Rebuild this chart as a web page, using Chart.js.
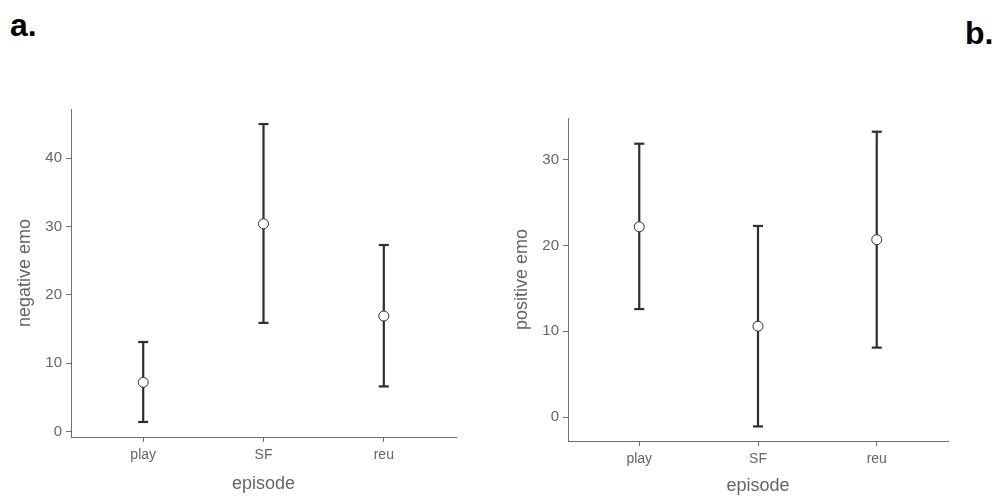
<!DOCTYPE html>
<html>
<head>
<meta charset="utf-8">
<script src="https://cdn.jsdelivr.net/npm/chart.js@4"></script>
<style>
    body { margin: 0; background: #fff; width: 999px; height: 498px; position: relative; overflow: hidden; font-family: "Liberation Sans", Arial, sans-serif; }
    .panel { position: absolute; }
    .tag { position: absolute; font-weight: bold; font-size: 32px; color: #000; line-height: 1; }
</style>
</head>
<body>
<div class="tag" style="left:10px; top:9px;">a.</div>
<div class="tag" style="left:965px; top:17px;">b.</div>
<div class="panel" style="left:0px; top:95px; width:480px; height:403px;"><canvas id="chartA"></canvas></div>
<div class="panel" style="left:490px; top:95px; width:480px; height:403px;"><canvas id="chartB"></canvas></div>
<script>
// categories and values
const categories = ["play", "SF", "reu"];

const negMean = [7.2, 30.4, 16.9];
const negLower = [1.4, 15.9, 6.6];
const negUpper = [13.1, 45.0, 27.3];
const negTicks = [0, 10, 20, 30, 40];

const posMean = [22.2, 10.6, 20.7];
const posLower = [12.6, -1.1, 8.1];
const posUpper = [31.9, 22.3, 33.3];
const posTicks = [0, 10, 20, 30];

const barColor = "#2e2e2e";
const axisColor = "#6f6f6f";
const textColor = "#666666";

// vertical segments with a horizontal cap at each end, broken by nulls
function errorData(lower, upper) {
    const out = [];
    categories.forEach((c, i) => {
        out.push({ x: i, y: lower[i] });
        out.push({ x: i, y: upper[i] });
        out.push({ x: i, y: null });
    });
    return out;
}

function meanData(mean) {
    return categories.map((c, i) => ({ x: i, y: mean[i] }));
}

function makeChart(id, cfg) {
    const ctx = document.getElementById(id).getContext("2d");
    return new Chart(ctx, {
        type: "scatter",
        data: {
            datasets: [
                {
                    data: errorData(cfg.lower, cfg.upper),
                    order: 2,
                    showLine: true,
                    spanGaps: false,
                    borderColor: barColor,
                    borderWidth: 2.2,
                    pointStyle: "line",
                    pointRadius: 5,
                    pointBorderWidth: 2.2,
                    pointBorderColor: barColor,
                    pointHoverRadius: 5,
                },
                {
                    data: meanData(cfg.mean),
                    order: 1,
                    showLine: false,
                    pointStyle: "circle",
                    pointRadius: 5,
                    pointBackgroundColor: "#ffffff",
                    pointBorderColor: barColor,
                    pointBorderWidth: 1,
                },
            ],
        },
        options: {
            responsive: true,
            maintainAspectRatio: false,
            animation: false,
            layout: {
                padding: { left: 0, right: cfg.padRight, top: cfg.padTop, bottom: 0 },
            },
            plugins: {
                legend: { display: false },
                tooltip: { enabled: false },
            },
            scales: {
                x: {
                    type: "linear",
                    min: -0.6,
                    max: 2.6,
                    afterBuildTicks: (axis) => { axis.ticks = categories.map((c, i) => ({ value: i })); },
                    afterFit: (scale) => { scale.height = cfg.xHeight; },
                    ticks: {
                        callback: (v) => categories[v],
                        color: textColor,
                        font: { family: "Liberation Sans", size: 14 },
                        padding: 5,
                        maxRotation: 0,
                    },
                    grid: {
                        drawOnChartArea: false,
                        drawTicks: true,
                        tickLength: 5,
                        color: axisColor,
                        lineWidth: 1,
                    },
                    border: { display: true, color: axisColor, width: 1 },
                    title: {
                        display: true,
                        text: "episode",
                        color: textColor,
                        font: { family: "Liberation Sans", size: 18 },
                        padding: { top: 0, bottom: cfg.xTitlePad },
                    },
                },
                y: {
                    min: cfg.yMin,
                    max: cfg.yMax,
                    afterBuildTicks: (axis) => { axis.ticks = cfg.ticks.map(v => ({ value: v })); },
                    afterFit: (scale) => { scale.width = cfg.yWidth; },
                    ticks: {
                        color: textColor,
                        font: { family: "Liberation Sans", size: 15 },
                        padding: 4,
                    },
                    grid: {
                        drawOnChartArea: false,
                        drawTicks: true,
                        tickLength: 5,
                        color: axisColor,
                        lineWidth: 1,
                    },
                    border: { display: true, color: axisColor, width: 1 },
                    title: {
                        display: true,
                        text: cfg.yTitle,
                        color: textColor,
                        font: { family: "Liberation Sans", size: 18 },
                        padding: { top: cfg.yTitlePad, bottom: 0 },
                    },
                },
            },
        },
    });
}

makeChart("chartA", {
    mean: negMean, lower: negLower, upper: negUpper, ticks: negTicks,
    yMin: -0.8, yMax: 47.2, yTitle: "negative emo",
    padTop: 14, padRight: 24, xHeight: 61, yWidth: 71,
    xTitlePad: 3, yTitlePad: 14,
});

makeChart("chartB", {
    mean: posMean, lower: posLower, upper: posUpper, ticks: posTicks,
    yMin: -2.8, yMax: 34.9, yTitle: "positive emo",
    padTop: 23, padRight: 22, xHeight: 57, yWidth: 78,
    xTitlePad: 1, yTitlePad: 21,
});
</script>
</body>
</html>
